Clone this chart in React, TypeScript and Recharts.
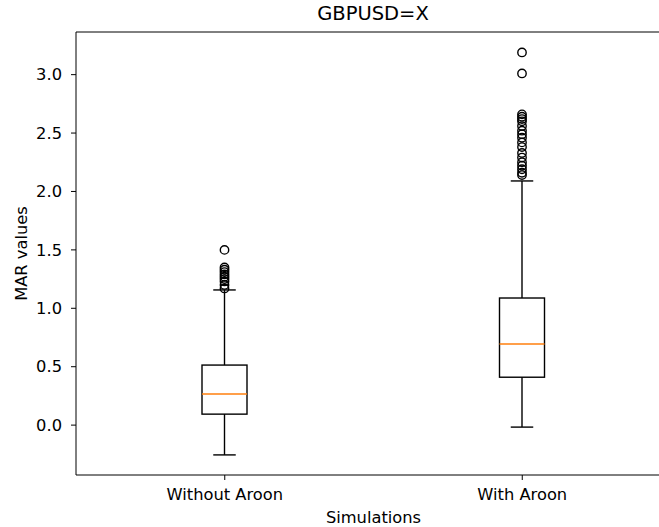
import React from 'react';
import { ComposedChart, Bar, XAxis, YAxis, ReferenceLine, Label } from 'recharts';

// valeurs (boîtes à moustaches)
const categories = ['Without Aroon', 'With Aroon'];
const whiskerLow = [-0.255, -0.017];
const q1 = [0.094, 0.41];
const median = [0.266, 0.694];
const q3 = [0.514, 1.088];
const whiskerHigh = [1.157, 2.09];
const outliersWithout = [1.5, 1.35, 1.33, 1.31, 1.29, 1.27, 1.25, 1.23, 1.2, 1.17];
const outliersWith = [
  3.19, 3.01, 2.66, 2.64, 2.62, 2.6, 2.56, 2.52, 2.49, 2.46, 2.42, 2.38, 2.33, 2.29, 2.25, 2.22, 2.19, 2.16, 2.14,
];
const yTicks = [0, 0.5, 1, 1.5, 2, 2.5, 3];

const Y_MIN = -0.427;
const Y_MAX = 3.365;
const FONT = 'DejaVu Sans, sans-serif';
const FS = 16.3;
const outliers = [outliersWithout, outliersWith];

const data = categories.map((name, i) => ({
  name,
  range: [whiskerLow[i], whiskerHigh[i]],
  lo: whiskerLow[i],
  q1: q1[i],
  median: median[i],
  q3: q3[i],
  hi: whiskerHigh[i],
  outliers: outliers[i],
}));

// dessine la boîte à partir du rectangle calculé par l'échelle de recharts
const BoxShape = (props: any) => {
  const { x, y, width, height, payload } = props;
  if (!payload) return null;
  const { lo, hi } = payload;
  const py = (v: number) => y + ((hi - v) / (hi - lo)) * height;
  const cx = x + width / 2;
  const cap = width / 4;
  const stroke = '#000';
  return (
    <g>
      <line x1={cx} x2={cx} y1={py(payload.q3)} y2={py(hi)} stroke={stroke} strokeWidth={1.4} />
      <line x1={cx} x2={cx} y1={py(payload.q1)} y2={py(lo)} stroke={stroke} strokeWidth={1.4} />
      <line x1={cx - cap} x2={cx + cap} y1={py(hi)} y2={py(hi)} stroke={stroke} strokeWidth={1.4} />
      <line x1={cx - cap} x2={cx + cap} y1={py(lo)} y2={py(lo)} stroke={stroke} strokeWidth={1.4} />
      <rect
        x={x}
        y={py(payload.q3)}
        width={width}
        height={py(payload.q1) - py(payload.q3)}
        fill="none"
        stroke={stroke}
        strokeWidth={1.4}
      />
      <line x1={x} x2={x + width} y1={py(payload.median)} y2={py(payload.median)} stroke="#ff7f0e" strokeWidth={1.4} />
      {payload.outliers.map((v: number, k: number) => (
        <circle key={k} cx={cx} cy={py(v)} r={4.2} fill="none" stroke={stroke} strokeWidth={1.4} />
      ))}
    </g>
  );
};

const YLabel = (props: any) => {
  const vb = props.viewBox || { y: 32, height: 443 };
  const cy = vb.y + vb.height / 2;
  return (
    <text
      x={21}
      y={cy}
      transform={`rotate(-90, 21, ${cy})`}
      textAnchor="middle"
      dominantBaseline="central"
      fill="#000"
      fontSize={FS}
      fontFamily={FONT}
    >
      MAR values
    </text>
  );
};

const App = () => {
  return (
    <div style={{ position: 'absolute', left: 0, top: 0, width: 659, height: 527, overflow: 'hidden', background: '#fff' }}>
      <div
        style={{
          position: 'absolute',
          left: 76,
          width: 594,
          top: 4,
          lineHeight: '20px',
          textAlign: 'center',
          fontFamily: FONT,
          fontSize: 19.5,
          color: '#000',
        }}
      >
        GBPUSD=X
      </div>
      <ComposedChart width={671} height={527} data={data} margin={{ top: 32, right: 0, left: 0, bottom: 0 }}>
        <XAxis
          dataKey="name"
          height={52}
          tickSize={5}
          tickMargin={8}
          stroke="#000"
          tick={{ fill: '#000', fontSize: FS, fontFamily: FONT }}
        >
          <Label value="Simulations" position="insideBottom" offset={4} fill="#000" fontSize={FS} fontFamily={FONT} />
        </XAxis>
        <YAxis
          type="number"
          domain={[Y_MIN, Y_MAX]}
          allowDataOverflow
          ticks={yTicks}
          tickFormatter={(v: number) => v.toFixed(1)}
          width={76}
          tickSize={5}
          tickMargin={9}
          stroke="#000"
          tick={{ fill: '#000', fontSize: FS, fontFamily: FONT }}
          label={<YLabel />}
        />
        <ReferenceLine y={Y_MAX} stroke="#000" strokeWidth={1} ifOverflow="extendDomain" />
        <Bar dataKey="range" barSize={45} shape={<BoxShape />} isAnimationActive={false} />
      </ComposedChart>
    </div>
  );
};

export default App;
